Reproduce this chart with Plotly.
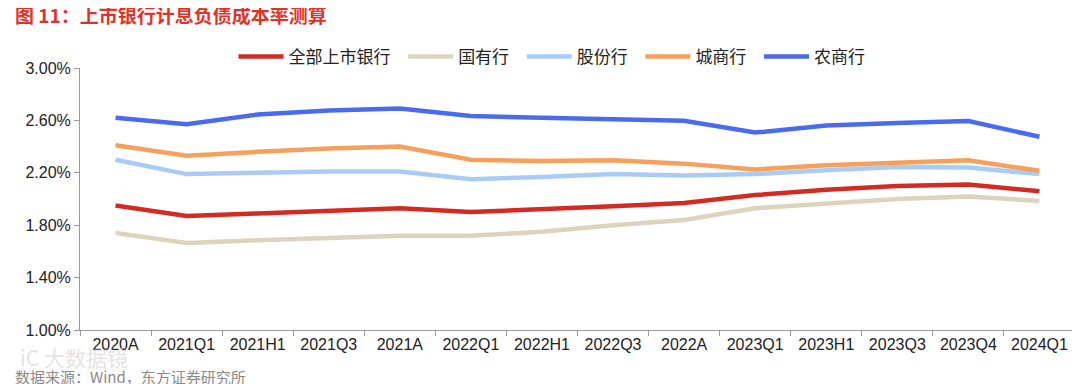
import plotly.graph_objects as go

categories = ["2020A", "2021Q1", "2021H1", "2021Q3", "2021A", "2022Q1", "2022H1",
              "2022Q3", "2022A", "2023Q1", "2023H1", "2023Q3", "2023Q4", "2024Q1"]

all_banks = [1.95, 1.87, 1.89, 1.91, 1.93, 1.90, 1.92, 1.944, 1.97, 2.03, 2.07, 2.10, 2.11, 2.06]
state_owned = [1.74, 1.665, 1.685, 1.70, 1.72, 1.72, 1.75, 1.80, 1.84, 1.93, 1.965, 2.00, 2.02, 1.985]
joint_stock = [2.30, 2.19, 2.20, 2.21, 2.21, 2.15, 2.168, 2.19, 2.18, 2.19, 2.22, 2.245, 2.24, 2.19]
city_banks = [2.41, 2.33, 2.36, 2.385, 2.40, 2.30, 2.29, 2.295, 2.27, 2.225, 2.257, 2.28, 2.295, 2.215]
rural_banks = [2.62, 2.57, 2.645, 2.675, 2.69, 2.633, 2.62, 2.61, 2.598, 2.507, 2.561, 2.58, 2.595, 2.475]

series_names = ["全部上市银行", "国有行", "股份行", "城商行", "农商行"]
series_values = [all_banks, state_owned, joint_stock, city_banks, rural_banks]
series_colors = ["#D52A22", "#DDD4BE", "#A9CCF6", "#F6A05C", "#4A6BEF"]

y_ticks = [1.0, 1.4, 1.8, 2.2, 2.6, 3.0]
y_tick_labels = ["1.00%", "1.40%", "1.80%", "2.20%", "2.60%", "3.00%"]

FONT = "Liberation Sans, Arial, Noto Sans CJK SC, sans-serif"
CJK = "Noto Sans CJK SC, sans-serif"

# the page body adds an 8px offset, so the figure is drawn 8px smaller
W, H = 1072, 376

fig = go.Figure()
for name, vals, col in zip(series_names, series_values, series_colors):
    fig.add_trace(go.Scatter(x=categories, y=vals, name=name + "\u00a0\u00a0", mode="lines",
                             line=dict(color=col, width=4.5)))

fig.update_layout(
    width=W, height=H,
    margin=dict(l=72, r=5, t=60, b=54, autoexpand=False),
    paper_bgcolor="white", plot_bgcolor="white",
    font=dict(family=FONT, size=16, color="#222222"),
    showlegend=True,
    legend=dict(orientation="h", xref="container", yref="container",
                x=(556 - 8) / W, y=1 - (57 - 8) / H, xanchor="center", yanchor="middle",
                font=dict(family=CJK, size=17, color="#222222"),
                itemwidth=45, tracegroupgap=0, bgcolor="rgba(0,0,0,0)"),
    xaxis=dict(type="category", range=[-0.5, 13.5], showline=True, linecolor="#9a9a9a",
               linewidth=1, ticks="outside", tickson="boundaries", ticklen=5,
               tickcolor="#9a9a9a", showgrid=False, zeroline=False, automargin=False,
               tickfont=dict(size=16, color="#222222")),
    yaxis=dict(range=[1.0, 3.0], tickvals=y_ticks, ticktext=y_tick_labels,
               showline=True, linecolor="#9a9a9a", linewidth=1, ticks="outside",
               ticklen=5, tickcolor="#9a9a9a", showgrid=False, zeroline=False,
               automargin=False, tickfont=dict(size=16, color="#222222")),
)

fig.add_annotation(text="<b>图 11：上市银行计息负债成本率测算</b>", xref="paper", yref="paper",
                   x=-66 / 995, y=1 + (68 - 15) / 262, xanchor="left", yanchor="middle",
                   borderpad=0, showarrow=False,
                   font=dict(family=CJK, size=19, color="#E5302A"))

fig.add_annotation(text="iC 大数据镜", xref="paper", yref="paper",
                   x=-62 / 995, y=-(357 - 330) / 262, xanchor="left", yanchor="middle",
                   showarrow=False, font=dict(family=CJK, size=21, color="#e4e4e4"))

fig.add_annotation(text="数据来源：Wind，东方证券研究所", xref="paper", yref="paper",
                   x=-67 / 995, y=-(376 - 330) / 262, xanchor="left", yanchor="middle",
                   showarrow=False, font=dict(family=CJK, size=15, color="#8a8a8a"))

fig.write_html("out.html")
